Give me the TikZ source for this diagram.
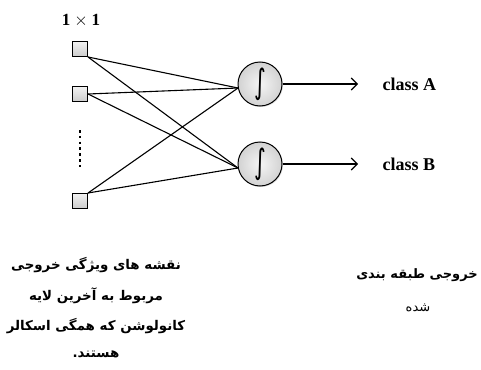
\documentclass[tikz,border=0pt]{standalone}
\usepackage{fontspec}
\usepackage{graphicx}
\setmainfont{Liberation Serif}
\newfontfamily\arabicfont[Script=Arabic]{DejaVu Sans}
\newfontfamily\intfont{DejaVu Sans}
\TeXXeTstate=1
\usetikzlibrary{arrows.meta,shadows}
\begin{document}
\begin{tikzpicture}[x=1pt,y=-1pt,
  sq/.style={draw,top color=gray!10,bottom color=gray!40,minimum size=15pt,inner sep=0pt,line width=1pt,
    drop shadow={opacity=0.3,shadow xshift=0.8pt,shadow yshift=-0.8pt}},
  neuron/.style={circle,draw,line width=1pt,minimum size=44pt,inner sep=0pt,inner color=gray!8,outer color=gray!35,
    drop shadow={opacity=0.25,shadow xshift=1pt,shadow yshift=-1pt},font=\intfont\fontsize{25}{27}\selectfont},
  link/.style={line width=1.1pt},
  outarrow/.style={line width=1.1pt,-{Straight Barb[length=6pt,width=12pt,line width=1.1pt]}},
  fa/.style={font=\arabicfont\bfseries\fontsize{13.4}{15}\selectfont,align=center}
]
\useasboundingbox (0,0) rectangle (481,369);
\node[font=\fontsize{17}{19}\selectfont] (lab) at (81,21) {$\mathbf{1\times 1}$};
\node[sq] (s1) at (80,49) {};
\node[sq] (s2) at (80,94) {};
\node[sq] (s3) at (80,201) {};
\coordinate (d1) at (80,130);
\coordinate (d2) at (80,168);
\draw[line width=2.6pt,dash pattern=on 2.6pt off 3.2pt] (d1) -- (d2);
\node[neuron] (nA) at (260,84) {\scalebox{0.9}[1.35]{∫}};
\node[neuron] (nB) at (260,164) {\scalebox{0.9}[1.35]{∫}};
\coordinate (a) at (238,88);
\coordinate (b) at (238,168);
\draw[link] (s1.south east) -- (a);
\draw[link] (s1.south east) -- (b);
\draw[link] (s2.east) -- (a);
\draw[link] (s2.east) -- (b);
\draw[link] (s3.north east) -- (a);
\draw[link] (s3.north east) -- (b);
\coordinate (eA) at (358,84);
\coordinate (eB) at (358,164);
\draw[outarrow] (nA.east) -- (eA);
\draw[outarrow] (nB.east) -- (eB);
\node[anchor=west,font=\bfseries\fontsize{18}{20}\selectfont] (cA) at (379,84) {class A};
\node[anchor=west,font=\fontsize{18}{20}\selectfont] (cB) at (379,164) {\textbf{class B}};
\node[fa] (t1) at (96,265) {\beginR نقشه های ویژگی خروجی\endR};
\node[fa] (t2) at (96,296) {\beginR مربوط به آخرین لایه\endR};
\node[fa] (t3) at (96,326) {\beginR کانولوشن که همگی اسکالر\endR};
\node[fa] (t4) at (96,354) {\beginR هستند.\endR};
\node[fa,font=\arabicfont\bfseries\fontsize{13}{15}\selectfont] (r1) at (417,275) {\beginR خروجی طبقه بندی\endR};
\node[fa,font=\arabicfont\fontsize{13}{15}\selectfont] (r2) at (418,308) {\beginR شده\endR};
\end{tikzpicture}
\end{document}
